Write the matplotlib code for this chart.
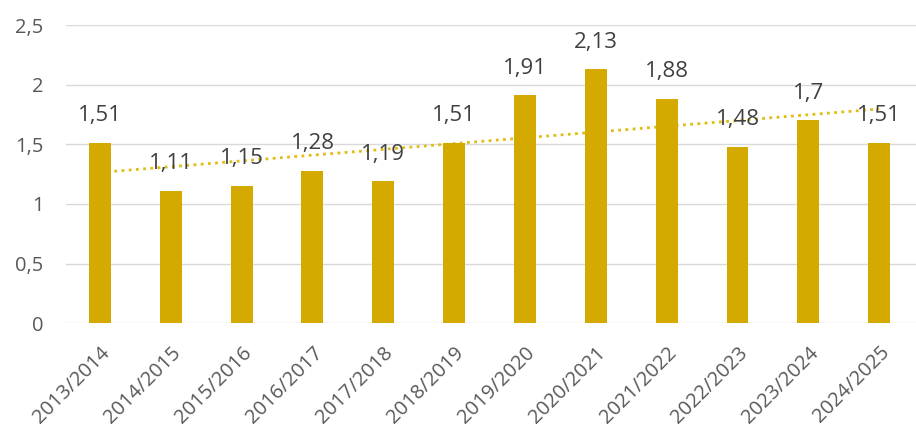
import numpy as np
import matplotlib
matplotlib.use("Agg")
import matplotlib.pyplot as plt

# data
seasons = ["2013/2014", "2014/2015", "2015/2016", "2016/2017", "2017/2018",
           "2018/2019", "2019/2020", "2020/2021", "2021/2022", "2022/2023",
           "2023/2024", "2024/2025"]
values = [1.51, 1.11, 1.15, 1.28, 1.19, 1.51, 1.91, 2.13, 1.88, 1.48, 1.70, 1.51]
yticks = [0, 0.5, 1, 1.5, 2, 2.5]

BAR = "#D4AA00"
TREND = "#E2BC10"
TXT = "#404040"
TICK = "#595959"
GRID = "#D9D9D9"


def fmt(v):
    s = f"{v:.2f}".rstrip("0").rstrip(".")
    return s.replace(".", ",")


plt.rcParams["font.family"] = ["Open Sans", "DejaVu Sans"]

fig = plt.figure(figsize=(9.16, 4.32), dpi=100)
ax = fig.add_axes([0.072, 0.252, 0.928, 0.690])

x = np.arange(len(values))
ax.bar(x, values, width=0.31, color=BAR, zorder=3)

# linear trendline (least squares fit of the bar values)
k, b = np.polyfit(x, values, 1)
ax.plot(x, k * x + b, color=TREND, lw=2.0, ls=(0, (1, 1.6)), zorder=2.5)

for xi, v in zip(x, values):
    ax.annotate(fmt(v), (xi, v), xytext=(0, 12), textcoords="offset points",
                ha="center", va="bottom", fontsize=16, color=TXT, zorder=5)

ax.set_xlim(-0.48, 11.52)
ax.set_ylim(0, 2.5)
ax.set_yticks(yticks)
ax.set_yticklabels([fmt(t) for t in yticks])
ax.set_xticks(x)
ax.set_xticklabels(seasons, rotation=45, ha="right", rotation_mode="anchor")
ax.tick_params(axis="both", length=0, colors=TICK, labelsize=14.5)
ax.tick_params(axis="y", pad=16)
ax.tick_params(axis="x", pad=14)
ax.grid(axis="y", color=GRID, lw=1.0, zorder=0)
for sp in ax.spines.values():
    sp.set_visible(False)

fig.savefig("out.png", dpi=100, facecolor="white")
